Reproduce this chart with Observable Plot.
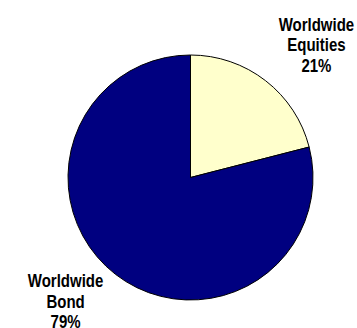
<!DOCTYPE html>
<html>
<head>
<meta charset="utf-8">
<script src="https://cdn.jsdelivr.net/npm/d3@7"></script>
<script src="https://cdn.jsdelivr.net/npm/@observablehq/plot@0.6"></script>
<style>
  html, body { margin: 0; padding: 0; background: #fff; }
  #chart svg { display: block; }
</style>
</head>
<body>
<div id="chart"></div>
<script>
// Asset allocation shares (percent)
const categories = ["Worldwide Equities", "Worldwide Bond"];
const shares = [21, 79];
const labelLines = [["Worldwide", "Equities", "21%"], ["Worldwide", "Bond", "79%"]];
const sliceColors = ["#FFFFCC", "#000080"];

const rows = categories.map((c, i) => ({category: c, share: shares[i], label: labelLines[i].join("\n")}));

// Slices start at 12 o'clock and run clockwise
const arcs = d3.pie().sort(null).value(d => d.share)(rows);

// Where each label block sits, in unit-circle coordinates
const labelAnchor = {
  "Worldwide Equities": [1.024, 1.088],
  "Worldwide Bond": [-1.024, -1.006]
};
const labelRows = rows.map(d => ({...d, lx: labelAnchor[d.category][0], ly: labelAnchor[d.category][1]}));

function pieMark(index, scales, values, dimensions) {
  const cx = scales.x(0), cy = scales.y(0);
  const r = scales.x(1) - cx;
  const arc = d3.arc().innerRadius(0).outerRadius(r);
  const g = d3.create("svg:g").attr("transform", `translate(${cx},${cy})`);
  g.selectAll("path")
    .data(arcs)
    .join("path")
    .attr("d", arc)
    .attr("fill", (d, i) => sliceColors[i])
    .attr("stroke", "#000")
    .attr("stroke-width", 1)
    .attr("stroke-linejoin", "round");
  return g.node();
}

const plot = Plot.plot({
  width: 357,
  height: 328,
  marginLeft: 68,
  marginRight: 44,
  marginTop: 55,
  marginBottom: 28,
  x: {domain: [-1, 1], axis: null},
  y: {domain: [-1, 1], axis: null},
  style: {background: "#fff", overflow: "visible"},
  marks: [
    pieMark,
    Plot.text(labelRows, {
      x: "lx",
      y: "ly",
      text: "label",
      lineHeight: 1.12,
      fontSize: 15,
      fontWeight: "bold",
      fontFamily: "'Liberation Sans', Arial, sans-serif",
      fill: "#000",
      textAnchor: "middle"
    })
  ]
});

// Tall, condensed label lettering: stretch each label vertically about its anchor
plot.querySelectorAll("g[aria-label='text'] text").forEach(t => {
  const x = +(t.getAttribute("x") || 0), y = +(t.getAttribute("y") || 0);
  const base = t.getAttribute("transform") || "";
  t.setAttribute("transform", `${base} translate(${x},${y}) scale(1,1.22) translate(${-x},${-y})`);
});

document.getElementById("chart").appendChild(plot);
</script>
</body>
</html>
